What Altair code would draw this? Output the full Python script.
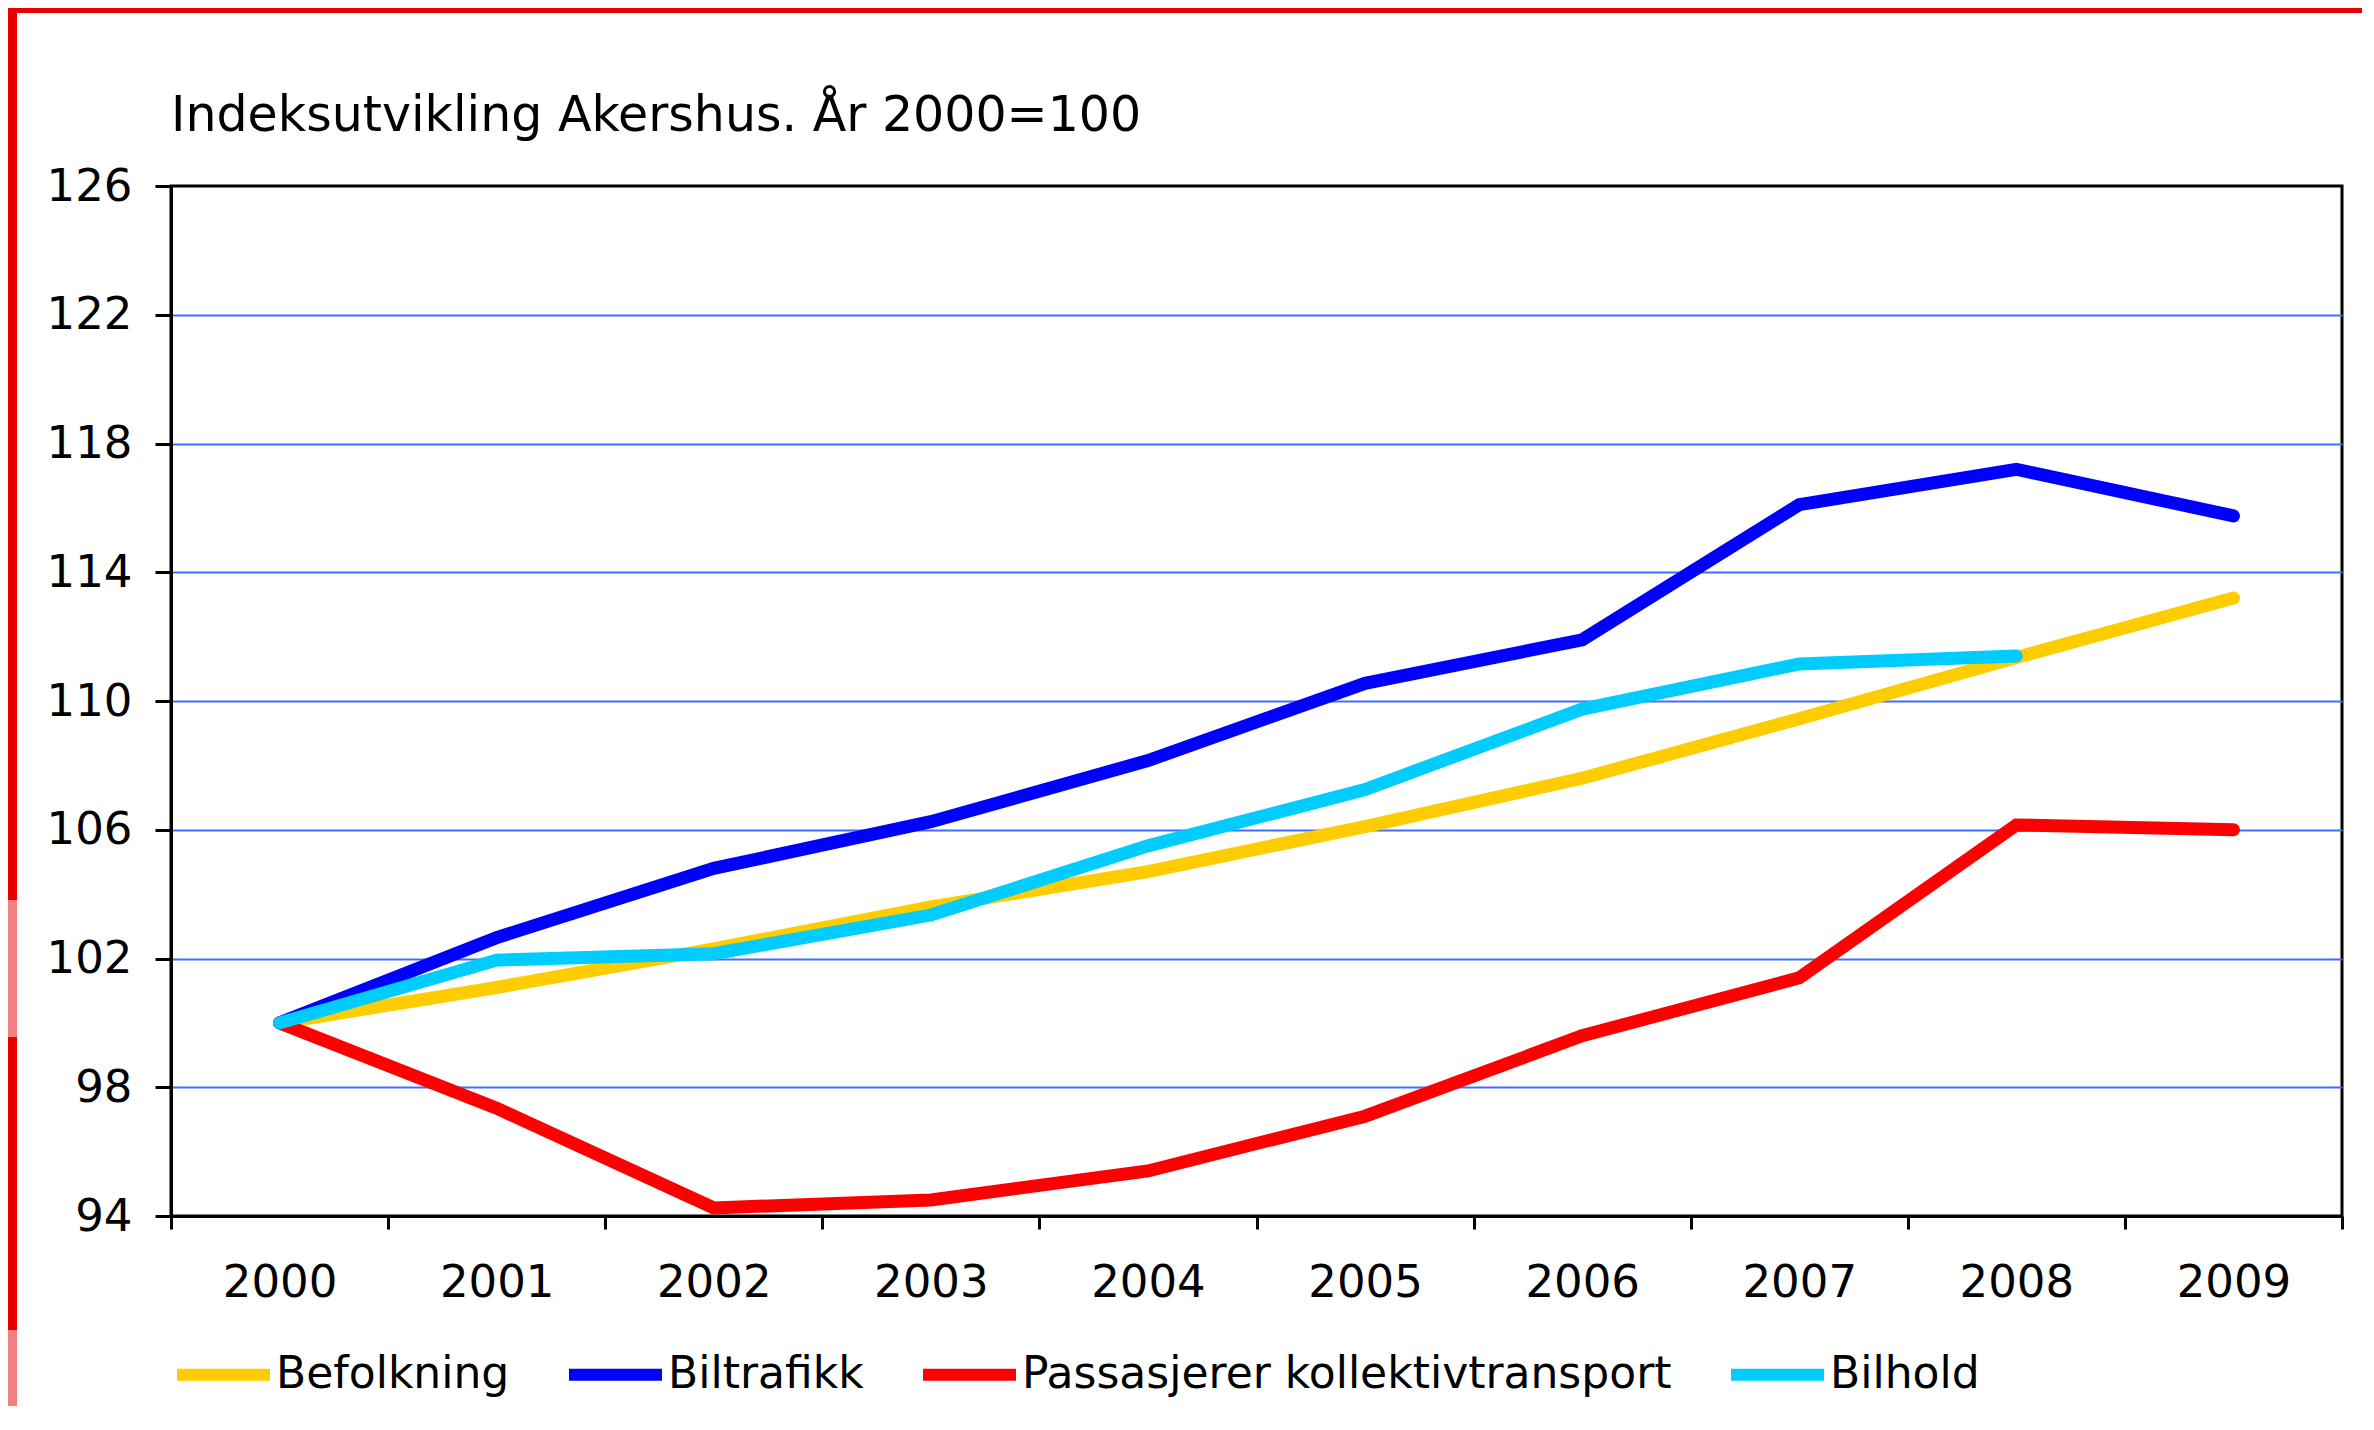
import altair as alt
import pandas as pd

# ---- data ----
years = ["2000", "2001", "2002", "2003", "2004", "2005", "2006", "2007", "2008", "2009"]
series_names = ["Befolkning", "Biltrafikk", "Passasjerer kollektivtransport", "Bilhold"]
befolkning = [100, 101.1, 102.3, 103.6, 104.7, 106.1, 107.6, 109.45, 111.35, 113.2]
biltrafikk = [100, 102.65, 104.8, 106.25, 108.15, 110.55, 111.9, 116.1, 117.2, 115.75]
passasjerer = [100, 97.35, 94.25, 94.5, 95.4, 97.1, 99.6, 101.4, 106.15, 106.0]
bilhold = [100, 101.95, 102.15, 103.35, 105.5, 107.25, 109.75, 111.15, 111.4]
y_ticks = [94, 98, 102, 106, 110, 114, 118, 122, 126]
title_text = "Indeksutvikling Akershus. År 2000=100"

# ---- styles ----
colors = ["#FFCC00", "#0000FF", "#FF0000", "#00CCFF"]
FONT = "DejaVu Sans"
W, H = 2171, 1030
PAD_L, PAD_T = 163, 178

rows = []
for name, vals in zip(series_names, [befolkning, biltrafikk, passasjerer, bilhold]):
    for yr, v in zip(years, vals):
        rows.append({"year": yr, "series": name, "value": v})
df = pd.DataFrame(rows)

lines = alt.Chart(df).mark_line(strokeWidth=13, strokeCap="round", strokeJoin="miter").encode(
    x=alt.X(
        "year:O",
        sort=years,
        bandPosition=0.5,
        scale=alt.Scale(type="band", paddingInner=0, paddingOuter=0),
        axis=alt.Axis(
            title=None, labelAngle=0, tickBand="extent", grid=False,
            ticks=True, tickSize=13, tickWidth=3, tickColor="black",
            domainColor="black", domainWidth=3,
            labelFont=FONT, labelFontSize=45, labelColor="black", labelPadding=31,
        ),
    ),
    y=alt.Y(
        "value:Q",
        scale=alt.Scale(domain=[94, 126], nice=False, zero=False),
        axis=alt.Axis(
            title=None, values=y_ticks, grid=True, gridColor="#3F6FFF", gridWidth=2,
            gridOpacity={"condition": {"test": "datum.value >= 126 || datum.value <= 94", "value": 0}, "value": 1},
            ticks=True, tickSize=16, tickWidth=3, tickColor="black",
            domainColor="black", domainWidth=3,
            labelFont=FONT, labelFontSize=45, labelColor="black", labelPadding=23,
        ),
    ),
    color=alt.Color(
        "series:N",
        sort=series_names,
        scale=alt.Scale(domain=series_names, range=colors),
        legend=alt.Legend(
            title=None, orient="none", direction="horizontal", legendX=0, legendY=1136,
            symbolType="stroke", symbolSize=8649, symbolStrokeWidth=12,
            labelFont=FONT, labelFontSize=44, labelColor="black", labelLimit=0,
            columnPadding=35, labelOffset=0, padding=0,
        ),
    ),
)

# decorative red frame (left and top edges of the reference)
dummy = pd.DataFrame({"k": [0]})
frame_left = alt.Chart(dummy).mark_rect(color="#E60000").encode(
    x=alt.value(-PAD_L), x2=alt.value(-PAD_L + 9), y=alt.value(-PAD_T), y2=alt.value(H + 300)
)
frame_top = alt.Chart(dummy).mark_rect(color="#E60000").encode(
    x=alt.value(-PAD_L), x2=alt.value(W + 300), y=alt.value(-PAD_T), y2=alt.value(-PAD_T + 5)
)
pink1 = alt.Chart(dummy).mark_rect(color="#F28080").encode(
    x=alt.value(-PAD_L), x2=alt.value(-PAD_L + 9), y=alt.value(714), y2=alt.value(851)
)
pink2 = alt.Chart(dummy).mark_rect(color="#F28080").encode(
    x=alt.value(-PAD_L), x2=alt.value(-PAD_L + 9), y=alt.value(1144), y2=alt.value(H + 300)
)

chart = alt.layer(frame_left, frame_top, pink1, pink2, lines).properties(
    width=W,
    height=H,
    padding={"left": PAD_L, "top": PAD_T, "right": 20, "bottom": 190},
    autosize=alt.AutoSizeParams(type="none"),
    title=alt.TitleParams(
        title_text, anchor="start", frame="group", font=FONT, fontSize=49,
        fontWeight="normal", color="black", baseline="alphabetic", offset=-172,
    ),
    background="white",
).configure_view(stroke="black", strokeWidth=3)

chart.save("out.html", embed_options={"renderer": "svg", "actions": False})
